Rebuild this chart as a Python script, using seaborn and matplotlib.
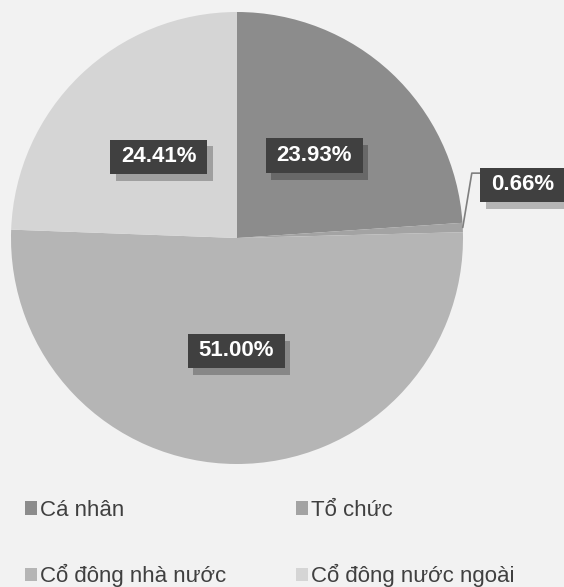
import matplotlib
matplotlib.use("Agg")
import matplotlib.pyplot as plt
import matplotlib.patheffects as pe
from matplotlib.patches import Patch
import seaborn as sns
import numpy as np

categories = ["Cá nhân", "Tổ chức", "Cổ đông nhà nước", "Cổ đông nước ngoài"]
shares = [23.93, 0.66, 51.00, 24.41]
colors = ["#8c8c8c", "#a3a3a3", "#b5b5b5", "#d5d5d5"]

sns.set_theme(style="white")
plt.rcParams["font.family"] = ["Liberation Sans", "DejaVu Sans"]

BG = "#f2f2f2"
W, H = 564, 587
fig = plt.figure(figsize=(W / 100, H / 100), dpi=100, facecolor=BG)

# pie centred at (237, 238) px from top-left, radius 226 px
cx, cy, r = 237, 238, 226
ax = fig.add_axes([(cx - r) / W, (H - cy - r) / H, 2 * r / W, 2 * r / H])
ax.set_facecolor(BG)

wedges, _, pct_texts = ax.pie(
    shares, colors=colors, startangle=90, counterclock=False,
    radius=1.0, pctdistance=0.5,
    autopct=lambda p: f"{p:.2f}%",
    wedgeprops=dict(linewidth=0),
)
ax.set_xlim(-1, 1)
ax.set_ylim(-1, 1)
ax.set_aspect("equal")
ax.axis("off")

box_style = dict(boxstyle="square,pad=0.48", facecolor="#404040", edgecolor="none")

# small slice label sits outside with a leader line
small = 1
w = wedges[small]
mid = np.deg2rad((w.theta1 + w.theta2) / 2)
edge = (np.cos(mid), np.sin(mid))
lab_pos = (1.262, 0.235)
pct_texts[small].set_position(lab_pos)
ax.plot([edge[0], edge[0] + 0.04, lab_pos[0] - 0.18],
        [edge[1], 0.287, 0.287], color="#7f7f7f", lw=1.2, zorder=2,
        clip_on=False)

for t in pct_texts:
    t.set_color("white")
    t.set_fontsize(16)
    t.set_fontweight("bold")
    t.set_ha("center")
    t.set_va("center")
    t.set_bbox(box_style)
    t.set_zorder(5)
    t.set_clip_on(False)
    patch = t.get_bbox_patch()
    # wider horizontal padding than vertical
    patch.set_mutation_aspect(0.62)
    patch.set_path_effects([
        pe.SimplePatchShadow(offset=(4, -5), shadow_rgbFace="#000000", alpha=0.25),
        pe.Normal(),
    ])

# legend filled row by row: matplotlib fills columns first, so interleave
order = [0, 2, 1, 3]
handles = [Patch(facecolor=colors[i], edgecolor="none") for i in order]
labels = [categories[i] for i in order]
fig.legend(
    handles, labels, ncol=2, frameon=False,
    loc="upper left", bbox_to_anchor=(5 / W, 1 - 480 / H),
    fontsize=16, labelcolor="#404040",
    handlelength=0.55, handleheight=0.55, handletextpad=0.12,
    labelspacing=1.95, columnspacing=3.15,
)

fig.savefig("out.png", dpi=100, facecolor=BG)
